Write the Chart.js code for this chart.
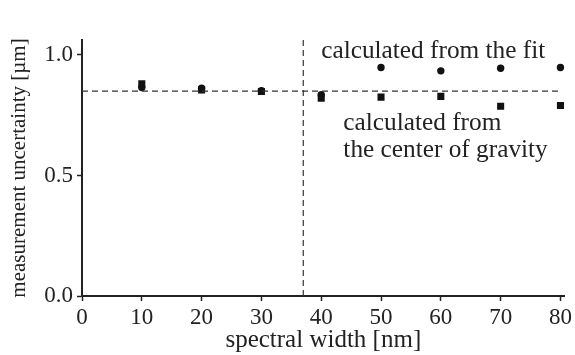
<!DOCTYPE html>
<html>
<head>
<meta charset="utf-8">
<script src="https://cdn.jsdelivr.net/npm/chart.js@4/dist/chart.umd.min.js"></script>
<style>
  html, body { margin: 0; padding: 0; background: #fff; }
  #wrap { width: 575px; height: 355px; }
</style>
</head>
<body>
<div id="wrap"><canvas id="c" width="575" height="355"></canvas></div>
<script>
// values
const widths = [10, 20, 30, 40, 50, 60, 70, 80];
const fitVals = [0.865, 0.862, 0.852, 0.835, 0.948, 0.934, 0.945, 0.948];
const cogVals = [0.880, 0.855, 0.848, 0.820, 0.825, 0.828, 0.787, 0.790];
const refLevel = 0.85;
const splitAt = 37;
const xTicks = [0, 10, 20, 30, 40, 50, 60, 70, 80];
const yTicks = [0.0, 0.5, 1.0];

const FONT = '"Liberation Serif", "Times New Roman", serif';
const INK = '#222';
const toXY = (xs, ys) => xs.map((x, i) => ({ x, y: ys[i] }));

// text labels placed in data coordinates
const notes = [
  { text: 'calculated from the fit', x: 40.0, y: 0.988 },
  { text: 'calculated from', x: 43.7, y: 0.689 },
  { text: 'the center of gravity', x: 43.7, y: 0.577 }
];

const notePlugin = {
  id: 'notes',
  afterDatasetsDraw(chart){
    const { ctx, scales: { x, y } } = chart;
    ctx.save();
    ctx.fillStyle = INK;
    ctx.font = '25.3px ' + FONT;
    ctx.textBaseline = 'alphabetic';
    notes.forEach(n => ctx.fillText(n.text, x.getPixelForValue(n.x), y.getPixelForValue(n.y)));
    ctx.restore();
  }
};

new Chart(document.getElementById('c').getContext('2d'), {
  type: 'scatter',
  data: {
    datasets: [
      {
        type: 'line', data: [{ x: 0, y: refLevel }, { x: 80, y: refLevel }],
        borderColor: '#333', borderWidth: 1.2, borderDash: [6, 4], pointRadius: 0
      },
      {
        type: 'line', data: [{ x: splitAt, y: 0 }, { x: splitAt, y: 1.062 }],
        borderColor: '#333', borderWidth: 1.2, borderDash: [6, 4], pointRadius: 0
      },
      {
        label: 'center of gravity', data: toXY(widths, cogVals),
        pointStyle: 'rect', pointRadius: 5, backgroundColor: '#111', borderColor: '#111', borderWidth: 0
      },
      {
        label: 'fit', data: toXY(widths, fitVals),
        pointStyle: 'circle', pointRadius: 3.7, backgroundColor: '#111', borderColor: '#111', borderWidth: 0
      }
    ]
  },
  options: {
    responsive: false,
    animation: false,
    layout: { padding: { top: 40, right: 7, left: 0, bottom: 0 } },
    plugins: { legend: { display: false }, tooltip: { enabled: false } },
    scales: {
      x: {
        type: 'linear', min: 0, max: 80.7,
        afterBuildTicks: (s) => { s.ticks = xTicks.map(v => ({ value: v })); },
        afterFit: (s) => { s.height = 59; },
        ticks: { color: INK, font: { family: FONT, size: 23 }, padding: 3, maxRotation: 0 },
        grid: { drawOnChartArea: false, tickLength: 5, color: INK, tickWidth: 1.5 },
        border: { color: INK, width: 2 },
        title: { display: true, text: 'spectral width [nm]', color: INK,
                 font: { family: FONT, size: 25 }, padding: { top: -2, bottom: 0 } }
      },
      y: {
        type: 'linear', min: 0, max: 1.062,
        afterBuildTicks: (s) => { s.ticks = yTicks.map(v => ({ value: v })); },
        afterFit: (s) => { s.width = 82; },
        ticks: { color: INK, font: { family: FONT, size: 23 }, padding: 4,
                 callback: (v) => Number(v).toFixed(1) },
        grid: { drawOnChartArea: false, tickLength: 5, color: INK, tickWidth: 1.5 },
        border: { color: INK, width: 2 },
        title: { display: true, text: 'measurement uncertainty [µm]', color: INK,
                 font: { family: FONT, size: 21 }, padding: { top: 7, bottom: 0 } }
      }
    }
  },
  plugins: [notePlugin]
});
</script>
</body>
</html>
